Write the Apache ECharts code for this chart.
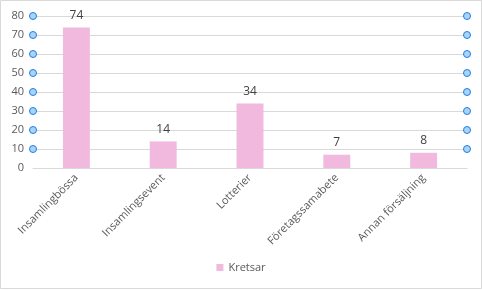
<!DOCTYPE html>
<html><head><meta charset="utf-8">
<script src="https://cdn.jsdelivr.net/npm/echarts@6/dist/echarts.min.js"></script>
<style>html,body{margin:0;padding:0;background:#fff}#c{width:482px;height:290px;}</style>
</head><body><div id="c"></div>
<script>
const categories = ['Insamlingbössa','Insamlingsevent','Lotterier','Företagssamabete','Annan försäljning'];
const kretsar = [74, 14, 34, 7, 8];
const handleValues = [10, 20, 30, 40, 50, 60, 70, 80];
const handleData = [];
handleValues.forEach(v => { handleData.push([0, v]); handleData.push([1, v]); });
const chart = echarts.init(document.getElementById('c'));
const font = '"Open Sans", "Liberation Sans", "DejaVu Sans", sans-serif';
chart.setOption({
  animation: false,
  graphic: [{type:'rect', shape:{x:0.5,y:0.5,width:481,height:288}, style:{fill:'none', stroke:'#d9d9d9', lineWidth:1}, silent:true}],
  grid: {left: 33, right: 15, top: 16, bottom: 122},
  legend: {bottom: 12, left: 'center', itemWidth: 7, itemHeight: 7, icon: 'rect',
    textStyle: {color: '#595959', fontSize: 11, fontFamily: font}, data: ['Kretsar']},
  xAxis: [{type: 'category', data: categories,
    axisLine: {lineStyle: {color: '#d9d9d9'}}, axisTick: {show: false},
    axisLabel: {rotate: 45, interval: 0, color: '#595959', fontSize: 11, fontFamily: font, margin: 8}},
    {type: 'value', min: 0, max: 1, show: false}],
  yAxis: {type: 'value', min: 0, max: 80, interval: 10,
    axisLine: {show: false}, axisTick: {show: false},
    splitLine: {lineStyle: {color: '#d9d9d9'}},
    axisLabel: {color: '#595959', fontSize: 11, fontFamily: font, margin: 9}},
  series: [{name: 'Kretsar', type: 'bar', data: kretsar, barWidth: '31%',
    itemStyle: {color: '#f0b9dd'},
    label: {show: true, position: 'top', color: '#404040', fontSize: 12, fontFamily: font, distance: 6}},
    {type: 'scatter', xAxisIndex: 1, data: handleData, symbol: 'circle', symbolSize: 7,
     itemStyle: {color: '#a9d3f7', borderColor: '#1e7fe0', borderWidth: 1, opacity: 1}, silent: true, z: 5}]
});
</script></body></html>
